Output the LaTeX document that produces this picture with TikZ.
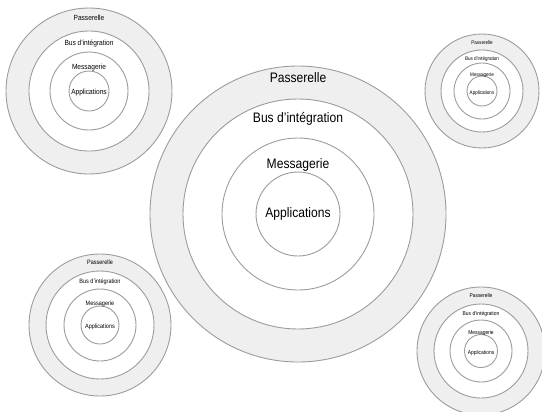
\documentclass[tikz,border=0pt]{standalone}
\usepackage{fontspec}
\setmainfont{Liberation Sans}[FakeStretch=0.88]
\definecolor{bandgray}{HTML}{EFEFEF}
\definecolor{ringline}{HTML}{9C9C9C}
\tikzset{
  ring/.style={draw=ringline,line width=0.9bp},
  band/.style={ring,fill=bandgray},
  hole/.style={ring,fill=white},
  layer/.style={inner sep=0,text height=0.72em,text depth=0pt}
}

\begin{document}
\begin{tikzpicture}[x=1bp,y=1bp]
    \useasboundingbox (0,0) rectangle (542,-411);
    % centre x/centre y/radii (passerelle, bus, messagerie, applications)/font size/name
    \foreach \cx/\cy/\ra/\rb/\rc/\rd/\fs/\n in {
        298/214/148/115/76/42/13.8/centre,
        89/91/83/60/39/20/7.5/nw,
        482/91/57/41/28/15/5.2/ne,
        100/325/71/54/36/19/6.3/sw,
        481/351/64/47/31/16.5/5.6/se}
    {
        \pgfmathsetmacro{\ypass}{-\cy+0.515*(\ra+\rb)}
        \pgfmathsetmacro{\ybus}{-\cy+0.5*(\rb+\rc)}
        \pgfmathsetmacro{\ymess}{-\cy+0.42*(\rc+\rd)}
        \draw[band] (\cx,-\cy) circle (\ra);
        \draw[hole] (\cx,-\cy) circle (\rb);
        \draw[ring] (\cx,-\cy) circle (\rc);
        \draw[ring] (\cx,-\cy) circle (\rd);
        \node[layer,font=\fontsize{\fs}{\fs}\selectfont] (pass-\n) at (\cx,\ypass) {Passerelle};
        \node[layer,font=\fontsize{\fs}{\fs}\selectfont] (bus-\n) at (\cx,\ybus) {Bus d’intégration};
        \node[layer,font=\fontsize{\fs}{\fs}\selectfont] (mess-\n) at (\cx,\ymess) {Messagerie};
        \node[layer,font=\fontsize{\fs}{\fs}\selectfont] (app-\n) at (\cx,-\cy) {Applications};
    }
\end{tikzpicture}
\end{document}
